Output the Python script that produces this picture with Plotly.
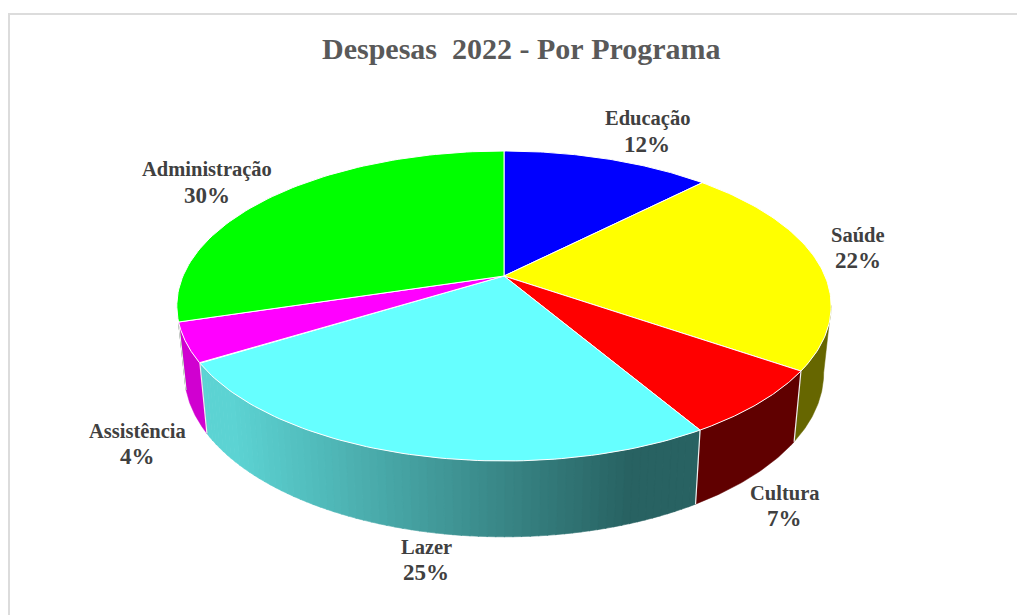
import math
import plotly.graph_objects as go

programs = ["Educação", "Saúde", "Cultura", "Lazer", "Assistência", "Administração"]
shares = [12.4, 22.2, 6.9, 24.7, 4.1, 29.7]
percent_labels = ["12%", "22%", "7%", "25%", "4%", "30%"]
top_colors = ["#0000ff", "#ffff00", "#ff0000", "#66ffff", "#ff00ff", "#00ff00"]
wall_colors = ["#000066", "#666600", "#600000", None, "#d000d0", "#006600"]
title_text = "Despesas\u00a0\u00a02022\u00a0- Por\u00a0Programa"

# layout constants (pixel space of the picture)
CX, CY, A, B, K = 504.0, 276.0, 321.0, 149.2, 0.1935
label_pos = [(647, 118, 144), (858, 235, 260), (784, 493, 518),
             (426, 547, 572), (137, 431, 456), (207, 169, 195)]
VIS_LO, VIS_HI = math.radians(101), math.radians(253.2)


def top(theta):
    s, c = math.sin(theta), math.cos(theta)
    w = 1 + K * c
    return CX + A * s / w, CY - B * c / w


def bottom(theta):
    x, y = top(theta)
    return CX + (x - CX) * 0.977, 1.056 * y + 50


def lerp_color(t):
    c0, c1 = (92, 211, 211), (40, 98, 98)
    t = max(0.0, min(1.0, t))
    return "rgb(%d,%d,%d)" % tuple(round(a + (b - a) * t) for a, b in zip(c0, c1))


fig = go.Figure()
total = sum(shares)
edges = [0.0]
for v in shares:
    edges.append(edges[-1] + v / total * 2 * math.pi)


def poly(xs, ys, fill, line=None, width=0.0):
    fig.add_trace(go.Scatter(x=xs, y=ys, mode="lines", fill="toself", fillcolor=fill,
                             line=dict(color=line or fill, width=width),
                             hoverinfo="skip", showlegend=False))


# side walls, only the front part can be seen
for i, (a0, a1) in enumerate(zip(edges[:-1], edges[1:])):
    lo, hi = max(a0, VIS_LO), min(a1, VIS_HI)
    if lo >= hi:
        continue
    if wall_colors[i] is None:
        n = 70
        for j in range(n):
            t0 = lo + (hi - lo) * j / n
            t1 = lo + (hi - lo) * (j + 1) / n + 0.002
            x0, y0 = top(t0)
            x1, y1 = top(t1)
            x2, y2 = bottom(t1)
            x3, y3 = bottom(t0)
            col = lerp_color(((x0 + x1) / 2 - 230) / 400)
            poly([x0, x1, x2, x3, x0], [y0, y1, y2, y3, y0], col, width=0.6)
    else:
        n = 50
        ts = [lo + (hi - lo) * j / n for j in range(n + 1)]
        upper = [top(t) for t in ts]
        lower = [bottom(t) for t in reversed(ts)]
        pts = upper + lower + upper[:1]
        poly([p[0] for p in pts], [p[1] for p in pts], wall_colors[i], width=0.5)

# white separators on the wall
for e in edges[1:-1]:
    if VIS_LO < e < VIS_HI:
        p, q = top(e), bottom(e)
        fig.add_trace(go.Scatter(x=[p[0], q[0]], y=[p[1], q[1]], mode="lines",
                                 line=dict(color="#f0f0f0", width=1.2),
                                 hoverinfo="skip", showlegend=False))

# top faces
for i, (a0, a1) in enumerate(zip(edges[:-1], edges[1:])):
    n = 80
    pts = [(CX, CY)] + [top(a0 + (a1 - a0) * j / n) for j in range(n + 1)] + [(CX, CY)]
    poly([p[0] for p in pts], [p[1] for p in pts], top_colors[i], line="#ffffff", width=1.0)

annotations = []
for name, pct, (x, y1, y2) in zip(programs, percent_labels, label_pos):
    annotations.append(dict(x=x, y=y1, text=f"<b>{name}</b>", showarrow=False,
                            font=dict(family="Liberation Serif", size=20.5, color="#404040")))
    annotations.append(dict(x=x, y=y2, text=f"<b>{pct}</b>", showarrow=False,
                            font=dict(family="Liberation Serif", size=23, color="#404040")))
annotations.append(dict(x=521, y=48, text=f"<b>{title_text}</b>", showarrow=False,
                        font=dict(family="Liberation Serif", size=30, color="#595959")))

fig.update_layout(
    width=1017, height=615, margin=dict(l=0, r=0, t=0, b=0),
    paper_bgcolor="#ffffff", plot_bgcolor="#ffffff", showlegend=False,
    xaxis=dict(range=[0, 1017], visible=False, fixedrange=True),
    yaxis=dict(range=[615, 0], visible=False, fixedrange=True),
    annotations=annotations,
    shapes=[dict(type="line", x0=9, x1=9, y0=13, y1=615, line=dict(color="#dcdcdc", width=2)),
            dict(type="line", x0=8, x1=1017, y0=14, y1=14, line=dict(color="#dcdcdc", width=2))],
)

fig.write_html("out.html", config=dict(displayModeBar=False),
               post_script="document.body.style.margin='0';document.body.style.overflow='hidden';")
